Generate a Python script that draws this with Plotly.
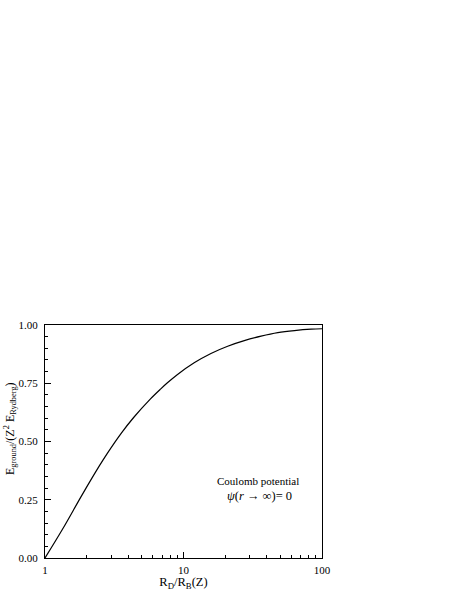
import plotly.graph_objects as go

# R_D / R_B(Z) and normalised ground-state energy
ratio = [1.0, 1.334, 1.862, 2.455, 2.818, 3.548, 4.365, 5.754, 6.855, 7.656,
         9.057, 11.94, 15.78, 20.84, 27.48, 36.31, 47.97, 63.24, 83.56, 100.0]
energy = [0.0, 0.122, 0.273, 0.393, 0.449, 0.535, 0.603, 0.682, 0.726, 0.752,
          0.788, 0.838, 0.878, 0.909, 0.933, 0.952, 0.967, 0.976, 0.982, 0.984]

x_ticks = [1, 10, 100]
y_ticks = [0.0, 0.25, 0.5, 0.75, 1.0]

serif = "Liberation Serif"

fig = go.Figure()
fig.add_trace(go.Scatter(x=ratio, y=energy, mode="lines",
                         line=dict(color="black", width=1.2, shape="spline"),
                         showlegend=False, hoverinfo="skip"))

fig.add_annotation(x=0.77, y=0.33, xref="paper", yref="paper",
                   xanchor="center", yanchor="middle",
                   text="Coulomb potential", showarrow=False,
                   font=dict(family=serif, size=11, color="black"))
fig.add_annotation(x=0.775, y=0.268, xref="paper", yref="paper",
                   xanchor="center", yanchor="middle",
                   text="<i>ψ</i>(<i>r</i> → ∞)= 0", showarrow=False,
                   font=dict(family=serif, size=12.5, color="black"))
# y axis title, placed by hand like the original
fig.add_annotation(x=-0.125, y=0.555, xref="paper", yref="paper",
                   xanchor="center", yanchor="middle",
                   text="E<sub>ground</sub>/(Z<sup>2</sup> E<sub>Rydberg</sub>)",
                   textangle=-90, showarrow=False,
                   font=dict(family=serif, size=12, color="black"))

fig.update_layout(
    width=457, height=591,
    margin=dict(l=45, r=135, t=325, b=33),
    paper_bgcolor="white", plot_bgcolor="white",
    font=dict(family=serif, size=11, color="black"),
    xaxis=dict(type="log", range=[0, 2], tickvals=x_ticks,
               ticktext=[str(v) for v in x_ticks], automargin=False,
               ticks="inside", ticklen=6, tickcolor="black",
               showline=True, linecolor="black", linewidth=1, mirror=True,
               showgrid=False, zeroline=False, ticklabelstandoff=2,
               minor=dict(ticks="inside", ticklen=3, tickcolor="black",
                          dtick="D1", showgrid=False),
               title=dict(text="R<sub>D</sub>/R<sub>B</sub>(Z)",
                          font=dict(size=12.5), standoff=0)),
    yaxis=dict(range=[0, 1], tickvals=y_ticks, tickformat=".2f",
               automargin=False,
               ticks="inside", ticklen=6, tickcolor="black",
               showline=True, linecolor="black", linewidth=1, mirror=True,
               showgrid=False, zeroline=False, ticklabelstandoff=4,
               minor=dict(ticks="inside", ticklen=3, tickcolor="black",
                          dtick=0.05, showgrid=False)),
)

# drop the default 8px page margin so the figure fills the window
fig.write_html("out.html", config={"displayModeBar": False},
               post_script="document.body.style.margin='0';")
